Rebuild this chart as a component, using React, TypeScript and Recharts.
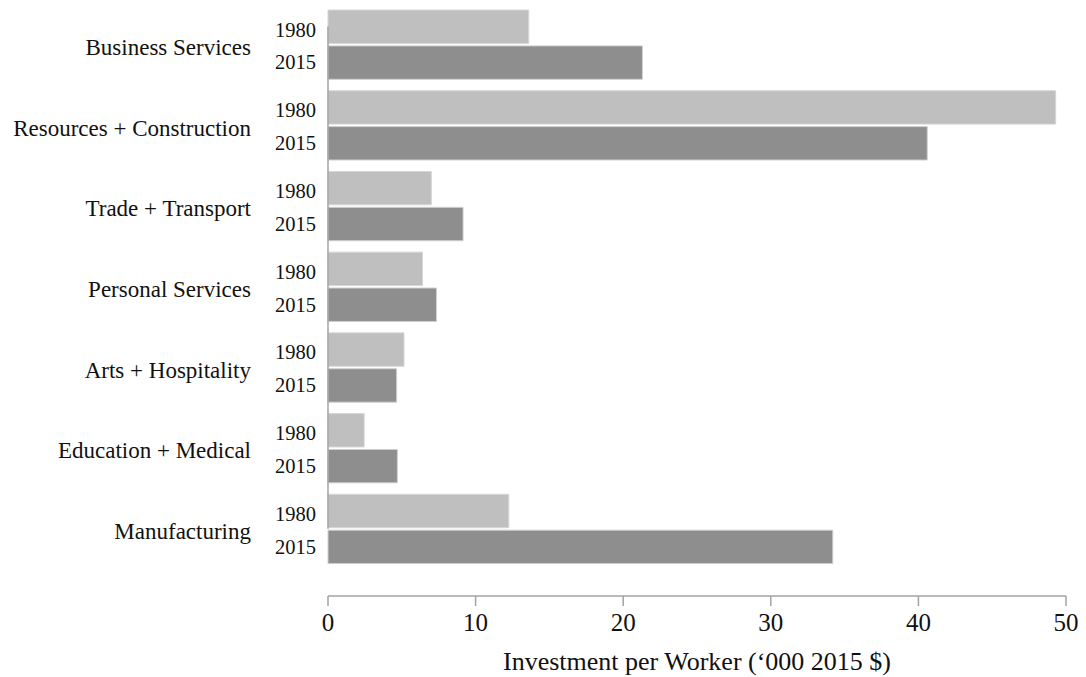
import React from "react";
import { BarChart, Bar, XAxis, YAxis } from "recharts";

const categories = [
  "Business Services",
  "Resources + Construction",
  "Trade + Transport",
  "Personal Services",
  "Arts + Hospitality",
  "Education + Medical",
  "Manufacturing",
];
const values1980 = [13.6, 49.3, 7.0, 6.4, 5.15, 2.45, 12.25];
const values2015 = [21.3, 40.6, 9.15, 7.35, 4.65, 4.7, 34.2];
const years = ["1980", "2015"];
const xTicks = [0, 10, 20, 30, 40, 50];

const data = categories.map((name, i) => ({
  name,
  y1980: values1980[i],
  y2015: values2015[i],
}));

const FONT = "Liberation Serif";
const BAR_SIZE = 33.4;
const BAR_GAP = 2.5;
const CAT_GAP = 5.7;
const AXIS_GREY = "#a3a3a3";

// band height, known from chart layout (plot 4..569 split in 7)
const BAND = (569 - 4) / categories.length;
const HALF_BAND = BAND / 2;
const YEAR_OFFSET = BAR_GAP / 2 + BAR_SIZE / 2;

const catStyle = { fontFamily: FONT, fontSize: 23 };
const yearStyle = { fontFamily: FONT, fontSize: 20.5 };

function CategoryTick(props: any) {
  const { x, y, payload, index } = props;
  const last = categories.length - 1;
  const top = index === 0 ? y - YEAR_OFFSET : y - HALF_BAND;
  const bottom = index === last ? y : y + HALF_BAND;
  return (
    <g>
      <line x1={x} x2={x} y1={top} y2={bottom} stroke={AXIS_GREY} strokeWidth={1.5} />
      <text x={x - 77} y={y + 2.5} dy="0.35em" textAnchor="end" style={catStyle} fill="#111">
        {payload.value}
      </text>
      <text x={x - 12} y={y - YEAR_OFFSET + 3} dy="0.35em" textAnchor="end" style={yearStyle} fill="#111">
        {years[0]}
      </text>
      <text x={x - 12} y={y + YEAR_OFFSET} dy="0.35em" textAnchor="end" style={yearStyle} fill="#111">
        {years[1]}
      </text>
    </g>
  );
}

export default function App() {
  return (
    <div style={{ position: "absolute", left: 0, top: 0, background: "#fff", fontFamily: FONT }}>
      <BarChart
        width={1086}
        height={677}
        data={data}
        layout="vertical"
        margin={{ top: 4, right: 20, bottom: 0, left: 0 }}
        barCategoryGap={CAT_GAP}
        barGap={BAR_GAP}
        style={{ fontFamily: FONT }}
      >
        <XAxis
          type="number"
          domain={[0, 50]}
          ticks={xTicks}
          height={81}
          stroke={AXIS_GREY}
          strokeWidth={1.5}
          tickSize={10}
          tickMargin={7}
          tick={{ fill: "#111", fontSize: 25, style: { fontFamily: FONT } }}
          label={{
            value: "Investment per Worker (\u2018000 2015 $)",
            position: "insideBottom",
            offset: 7,
            fill: "#111",
            fontSize: 26,
            style: { fontFamily: FONT },
          }}
        />
        <YAxis
          type="category"
          dataKey="name"
          width={328}
          axisLine={false}
          tickLine={false}
          tickSize={0}
          tickMargin={0}
          interval={0}
          padding={{ top: 0, bottom: 27 }}
          tick={<CategoryTick />}
        />
        <Bar
          dataKey="y1980"
          fill="#bfbfbf"
          stroke="#d6d6d6"
          strokeWidth={1}
          barSize={BAR_SIZE}
          isAnimationActive={false}
        />
        <Bar
          dataKey="y2015"
          fill="#8e8e8e"
          stroke="#cfcfcf"
          strokeWidth={1}
          barSize={BAR_SIZE}
          isAnimationActive={false}
        />
      </BarChart>
    </div>
  );
}
